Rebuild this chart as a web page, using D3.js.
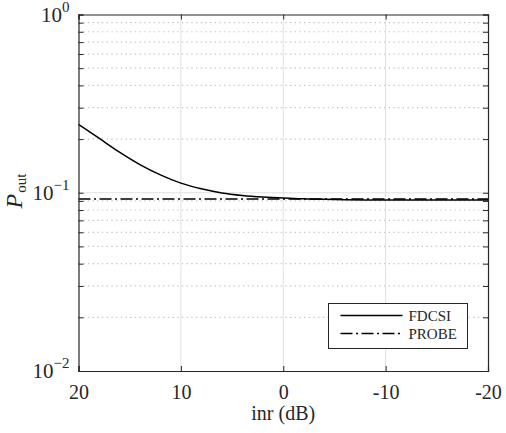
<!DOCTYPE html>
<html>
<head>
<meta charset="utf-8">
<script src="https://cdn.jsdelivr.net/npm/d3@7"></script>
<style>
  body { margin: 0; background: #fff; }
  svg text { font-family: "Liberation Serif", "DejaVu Serif", serif; fill: #262626; }
</style>
</head>
<body>
<div id="chart"></div>
<script>
// inr (dB) sample points
var inr = [20, 18, 16, 14, 12, 10, 8, 6, 4, 2, 0, -2, -4, -6, -8, -10, -12, -14, -16, -18, -20];
var fdcsi = [0.242, 0.2023, 0.169, 0.1439, 0.1259, 0.1132, 0.1052, 0.0998, 0.0966, 0.0946, 0.0933,
             0.0925, 0.0918, 0.0914, 0.0912, 0.0911, 0.0911, 0.091, 0.091, 0.091, 0.091];
var probe = [0.0922, 0.0922, 0.0922, 0.0922, 0.0922, 0.0922, 0.0922, 0.0922, 0.0922, 0.0922, 0.0922,
             0.0922, 0.0922, 0.0922, 0.0922, 0.0922, 0.0922, 0.0922, 0.0922, 0.0922, 0.0922];
var xTicks = [20, 10, 0, -10, -20];
var yDecades = [-2, -1, 0];

var margin = { top: 14.5, right: 18, bottom: 62, left: 78.5 };
var svgWidth = 506, svgHeight = 433;
var width = svgWidth - margin.left - margin.right;
var height = svgHeight - margin.top - margin.bottom;

var svg = d3.select('#chart').append('svg')
    .attr('width', svgWidth)
    .attr('height', svgHeight);

var g = svg.append('g')
    .attr('transform', 'translate(' + margin.left + ',' + margin.top + ')');

var x = d3.scaleLinear().domain([20, -20]).range([0, width]);
var y = d3.scaleLog().domain([0.01, 1]).range([height, 0]);

// minor values 2..9 x 10^k
var minor = [];
[-2, -1].forEach(function (k) {
    for (var m = 2; m <= 9; m++) minor.push(m * Math.pow(10, k));
});

// grid
g.append('g').selectAll('line').data(minor).enter().append('line')
    .attr('x1', 0).attr('x2', width)
    .attr('y1', d => y(d)).attr('y2', d => y(d))
    .attr('stroke', '#c4c4c4').attr('stroke-width', 1.2)
    .attr('stroke-dasharray', '1.3,3.4');

g.append('g').selectAll('line').data(yDecades.slice(1, 2)).enter().append('line')
    .attr('x1', 0).attr('x2', width)
    .attr('y1', d => y(Math.pow(10, d))).attr('y2', d => y(Math.pow(10, d)))
    .attr('stroke', '#e0e0e0').attr('stroke-width', 1);

g.append('g').selectAll('line').data(xTicks.slice(1, -1)).enter().append('line')
    .attr('x1', d => x(d)).attr('x2', d => x(d))
    .attr('y1', 0).attr('y2', height)
    .attr('stroke', '#e0e0e0').attr('stroke-width', 1);

// lines
var line = function (vals) {
    return d3.line()
        .x((d, i) => x(inr[i]))
        .y(d => y(d))
        .curve(d3.curveMonotoneX)(vals);
};

g.append('path')
    .attr('d', line(probe))
    .attr('fill', 'none').attr('stroke', '#000').attr('stroke-width', 1.5)
    .attr('stroke-dasharray', '12,3.5,2,3.5');

g.append('path')
    .attr('d', line(fdcsi))
    .attr('fill', 'none').attr('stroke', '#000').attr('stroke-width', 1.5);

// axes (ticks inside, box)
var axisColor = '#262626';
var yTickVals = yDecades.map(d => Math.pow(10, d)).concat(minor);
var xb = g.append('g').attr('transform', 'translate(0,' + height + ')')
    .call(d3.axisBottom(x).tickValues(xTicks).tickSize(-5).tickPadding(14).tickFormat(d3.format('d')));
var xt = g.append('g')
    .call(d3.axisTop(x).tickValues(xTicks).tickSize(-5).tickFormat(''));
var yl = g.append('g')
    .call(d3.axisLeft(y).tickValues(yTickVals).tickSize(-5).tickFormat(''));
var yr = g.append('g').attr('transform', 'translate(' + width + ',0)')
    .call(d3.axisRight(y).tickValues(yTickVals).tickSize(-5).tickFormat(''));

[xb, xt, yl, yr].forEach(function (a) {
    a.select('.domain').attr('stroke', axisColor).attr('stroke-width', 1.2);
    a.selectAll('.tick line').attr('stroke', axisColor).attr('stroke-width', 1);
});
xb.selectAll('.tick text')
    .style('font-family', '"Liberation Serif", serif')
    .attr('font-size', 20).attr('fill', axisColor);
xb.selectAll('.tick').filter(d => d < 0).select('text').text(d => '-' + Math.abs(d));

// y decade labels 10^k
var ylab = g.append('g');
yDecades.forEach(function (k) {
    var t = ylab.append('text')
        .attr('x', -9)
        .attr('y', y(Math.pow(10, k)) + 7)
        .attr('text-anchor', 'end')
        .attr('font-size', 21);
    t.append('tspan').text('10');
    t.append('tspan').attr('dy', -10).attr('font-size', 15).text(k === 0 ? '0' : '\u2212' + Math.abs(k));
});

// axis labels
svg.append('text')
    .attr('x', margin.left + width / 2)
    .attr('y', 420)
    .attr('text-anchor', 'middle')
    .attr('font-size', 20)
    .text('inr (dB)');

var yt = svg.append('text')
    .attr('transform', 'translate(22,' + 191 + ') rotate(-90)')
    .attr('text-anchor', 'middle')
    .attr('font-size', 24);
yt.append('tspan').attr('font-style', 'italic').text('P');
yt.append('tspan').attr('dx', 1).attr('dy', 4).attr('font-size', 15).text('out');

// legend
var lg = g.append('g').attr('transform', 'translate(' + (328.5 - margin.left) + ',' + (303.5 - margin.top) + ')');
lg.append('rect').attr('width', 139).attr('height', 45)
    .attr('fill', '#fff').attr('stroke', axisColor).attr('stroke-width', 1);
var items = [{ name: 'FDCSI', dash: null }, { name: 'PROBE', dash: '12,3.5,2,3.5' }];
items.forEach(function (d, i) {
    var yy = 12 + i * 18;
    lg.append('line').attr('x1', 12).attr('x2', 74).attr('y1', yy).attr('y2', yy)
        .attr('stroke', '#000').attr('stroke-width', 1.5)
        .attr('stroke-dasharray', d.dash);
    lg.append('text').attr('x', 80).attr('y', yy + 5)
        .attr('font-size', 15).text(d.name);
});
</script>
</body>
</html>
